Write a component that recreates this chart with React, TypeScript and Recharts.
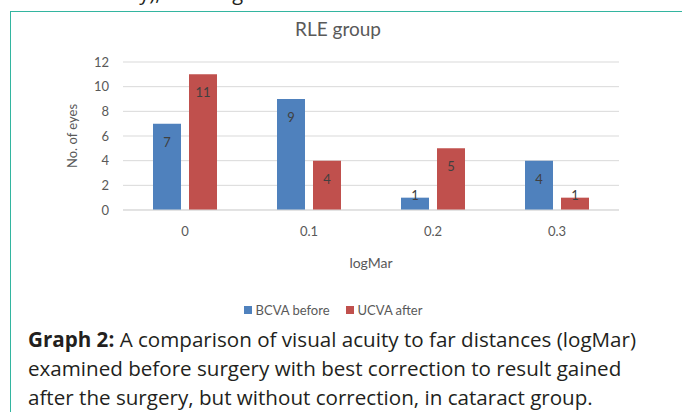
import React from 'react';
import { BarChart, Bar, XAxis, YAxis, CartesianGrid, Legend, LabelList, Label } from 'recharts';

const categories = ['0', '0.1', '0.2', '0.3'];
const bcvaBefore = [7, 9, 1, 4];
const ucvaAfter = [11, 4, 5, 1];
const yTicks = [0, 2, 4, 6, 8, 10, 12];

const series = [
  { key: 'bcva', name: 'BCVA before', color: '#4f81bd' },
  { key: 'ucva', name: 'UCVA after', color: '#c0504d' },
];

const data = categories.map((c, i) => ({ cat: c, bcva: bcvaBefore[i], ucva: ucvaAfter[i] }));

const chartFont = 'Lato, "Noto Sans", sans-serif';

// label sits inside the top of the bar, or straddles the top when the bar is short
const barLabel = (props: any) => {
  const { x, y, width, height, value } = props;
  const cy = height > 30 ? y + 18 : y - 3;
  return (
    <text
      x={x + width / 2}
      y={cy}
      textAnchor="middle"
      dominantBaseline="central"
      fill="#404040"
      fontSize={13}
      fontFamily={chartFont}
    >
      {value}
    </text>
  );
};

const legendContent = () => (
  <div style={{ display: 'flex', justifyContent: 'center', fontFamily: chartFont, fontSize: 13, color: '#595959' }}>
    {series.map((s) => (
      <span key={s.key} style={{ display: 'inline-flex', alignItems: 'center', marginRight: 16 }}>
        <span style={{ width: 8, height: 8, background: s.color, display: 'inline-block', marginRight: 4 }} />
        {s.name}
      </span>
    ))}
  </div>
);

const App: React.FC = () => {
  return (
    <div style={{ position: 'absolute', left: 0, top: 0, width: 682, height: 412, overflow: 'hidden', background: '#fff' }}>
      <div
        style={{
          position: 'absolute', left: 18, top: -20, whiteSpace: 'nowrap',
          fontFamily: '"Open Sans", sans-serif', fontSize: 20, color: '#231f20', lineHeight: '25px',
          height: 25, clipPath: 'inset(20px 0 0 0)',
        }}
      >
        cataract study), showing the results of the
      </div>
      <div
        style={{
          position: 'absolute', left: 10, top: 11, width: 700, height: 420,
          borderLeft: '1.5px solid #33b5a0', borderTop: '1.5px solid #33b5a0',
        }}
      />
      <div
        style={{
          position: 'absolute', left: 0, width: 676, top: 17, textAlign: 'center',
          fontFamily: chartFont, fontSize: 19, color: '#595959',
        }}
      >
        RLE group
      </div>
      <div style={{ position: 'absolute', left: 0, top: 0 }}>
        <BarChart
          width={682}
          height={320}
          data={data}
          margin={{ top: 62, right: 63, left: 10, bottom: 80 }}
          barGap={8}
          barSize={28}
        >
          <CartesianGrid vertical={false} stroke="#d9d9d9" />
          <XAxis
            dataKey="cat"
            axisLine={{ stroke: '#d9d9d9' }}
            tickLine={false}
            height={30}
            tickMargin={11}
            tick={{ fill: '#595959', fontSize: 13, fontFamily: chartFont }}
          >
            <Label value="logMar" position="bottom" offset={18} fill="#595959" fontSize={14} fontFamily={chartFont} />
          </XAxis>
          <YAxis
            domain={[0, 12]}
            ticks={yTicks}
            width={113}
            axisLine={false}
            tickLine={false}
            tickMargin={8}
            tick={{ fill: '#595959', fontSize: 13, fontFamily: chartFont }}
          >
            <Label value="No. of eyes" angle={-90} position="center" dx={6} fill="#595959" fontSize={13} fontFamily={chartFont} />
          </YAxis>
          <Legend
            verticalAlign="middle"
            align="center"
            content={legendContent}
            wrapperStyle={{ top: 302, left: 0, width: 682 }}
          />
          {series.map((s) => (
            <Bar key={s.key} dataKey={s.key} name={s.name} fill={s.color} isAnimationActive={false}>
              <LabelList dataKey={s.key} content={barLabel} />
            </Bar>
          ))}
        </BarChart>
      </div>
      <div
        style={{
          position: 'absolute', left: 28, top: 325, width: 654, whiteSpace: 'nowrap',
          fontFamily: '"Open Sans", sans-serif', fontSize: 20.6, lineHeight: '29px', color: '#231f20',
        }}
      >
        <b style={{ fontWeight: 700 }}>Graph 2:</b> A comparison of visual acuity to far distances (logMar)
        <br />
        examined before surgery with best correction to result gained
        <br />
        after the surgery, but without correction, in cataract group.
      </div>
    </div>
  );
};

export default App;
